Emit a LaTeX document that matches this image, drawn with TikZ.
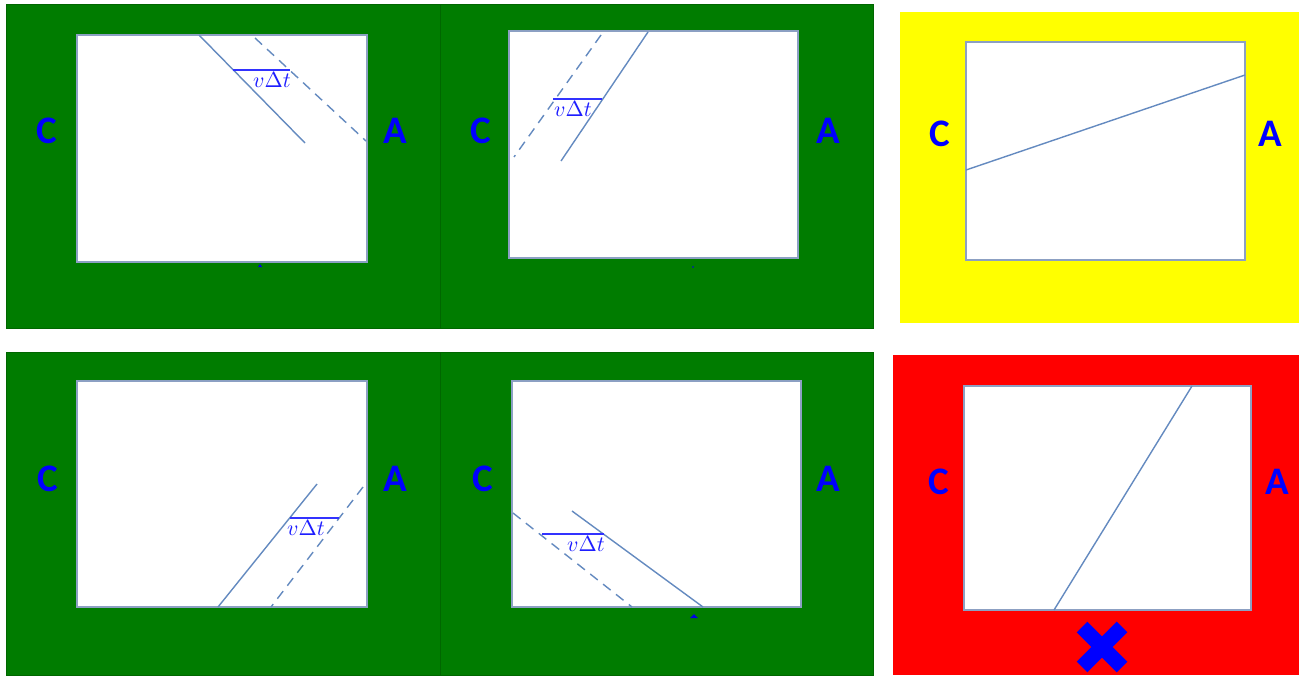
\documentclass[tikz,border=0pt]{standalone}
\usepackage{fontspec}
\newfontfamily\lblfont{Carlito}[BoldFont={Carlito Bold}]
\begin{document}
\begin{tikzpicture}[x=0.5pt,y=-0.5pt,
  panelbg/.style={draw=green!40!black,line width=0.3pt},
  inbox/.style={fill=white,draw={rgb,255:red,140;green,160;blue,195},line width=0.6pt},
  wline/.style={draw={rgb,255:red,100;green,138;blue,192},line width=0.7pt},
  wdash/.style={wline,dash pattern=on 4.8pt off 3.4pt},
  vbar/.style={draw={rgb,255:red,50;green,50;blue,255},line width=0.8pt},
  lbl/.style={text={rgb,255:red,0;green,0;blue,255},font=\lblfont\bfseries\fontsize{19.5}{19.5}\selectfont,inner sep=0pt},
  vt/.style={text={rgb,255:red,30;green,30;blue,255},font=\fontsize{10.5}{11}\selectfont,inner sep=0pt},
  tickmark/.style={fill={rgb,255:red,0;green,0;blue,230},draw=none}]
\definecolor{pgreen}{RGB}{0,124,0}
\definecolor{pyellow}{RGB}{255,255,0}
\definecolor{pred}{RGB}{255,0,0}
\useasboundingbox[fill=white] (0,0) rectangle (1299,675);
% ---------- backgrounds
\fill[pgreen,panelbg] (6,4) rectangle (440,328);
\fill[pgreen,panelbg] (440,4) rectangle (873,328);
\fill[pyellow] (900,12) rectangle (1299,323);
\fill[pgreen,panelbg] (6,352) rectangle (440,675);
\fill[pgreen,panelbg] (440,352) rectangle (873,675);
\fill[pred] (893,355) rectangle (1299,675);
% ---------- panel 1
\path[inbox] (77,35) rectangle (367,262);
\node[lbl] (c1) at (47,131) {C};
\node[lbl] (a1) at (395,131) {A};
\coordinate (s1a) at (199,35); \coordinate (s1b) at (305,143);
\coordinate (d1a) at (255,38); \coordinate (d1b) at (366,141);
\draw[wline] (s1a) -- (s1b);
\draw[wdash] (d1a) -- (d1b);
\coordinate (b1a) at (233,70); \coordinate (b1b) at (290,70);
\draw[vbar] (b1a) -- (b1b);
\node[vt] (t1) at (272,80) {$v\Delta t$};
\fill[tickmark] (258,267) -- (262,267) -- (260,264) -- cycle;
% ---------- panel 2
\path[inbox] (509,31) rectangle (798,258);
\node[lbl] (c2) at (481,131) {C};
\node[lbl] (a2) at (828,131) {A};
\coordinate (s2a) at (648,32); \coordinate (s2b) at (561,161);
\coordinate (d2a) at (601,35); \coordinate (d2b) at (514,157);
\draw[wline] (s2a) -- (s2b);
\draw[wdash] (d2a) -- (d2b);
\coordinate (b2a) at (553,99); \coordinate (b2b) at (602,99);
\draw[vbar] (b2a) -- (b2b);
\node[vt] (t2) at (573,109) {$v\Delta t$};
\fill[tickmark] (693,267) circle (0.8);
% ---------- panel 3
\path[inbox] (966,42) rectangle (1245,260);
\node[lbl] (c3) at (940,134) {C};
\node[lbl] (a3) at (1270,134) {A};
\coordinate (y3a) at (966,170); \coordinate (y3b) at (1245,75);
\draw[wline] (y3a) -- (y3b);
% ---------- panel 4
\path[inbox] (77,381) rectangle (367,607);
\node[lbl] (c4) at (48,479) {C};
\node[lbl] (a4) at (395,479) {A};
\coordinate (s4a) at (317,484); \coordinate (s4b) at (218,607);
\coordinate (d4a) at (363,487); \coordinate (d4b) at (271,607);
\draw[wline] (s4a) -- (s4b);
\draw[wdash] (d4a) -- (d4b);
\coordinate (b4a) at (290,518); \coordinate (b4b) at (339,518);
\draw[vbar] (b4a) -- (b4b);
\node[vt] (t4) at (306,528) {$v\Delta t$};
% ---------- panel 5
\path[inbox] (512,381) rectangle (801,607);
\node[lbl] (c5) at (483,479) {C};
\node[lbl] (a5) at (828,479) {A};
\coordinate (s5a) at (572,511); \coordinate (s5b) at (703,607);
\coordinate (d5a) at (513,513); \coordinate (d5b) at (632,607);
\draw[wline] (s5a) -- (s5b);
\draw[wdash] (d5a) -- (d5b);
\coordinate (b5a) at (542,534); \coordinate (b5b) at (604,534);
\draw[vbar] (b5a) -- (b5b);
\node[vt] (t5) at (586,544) {$v\Delta t$};
\fill[tickmark] (690,618) -- (698,618) -- (694,614) -- cycle;
% ---------- panel 6
\path[inbox] (964,386) rectangle (1251,610);
\node[lbl] (c6) at (939,482) {C};
\node[lbl] (a6) at (1277,482) {A};
\coordinate (r6a) at (1192,386); \coordinate (r6b) at (1054,610);
\draw[wline] (r6a) -- (r6b);
\coordinate (x6) at (1102,647);
\draw[draw={rgb,255:red,0;green,0;blue,255},line width=7.5pt]
  ([shift={(-20,-20)}]x6) -- ([shift={(20,20)}]x6)
  ([shift={(-20,20)}]x6) -- ([shift={(20,-20)}]x6);
\end{tikzpicture}
\end{document}
